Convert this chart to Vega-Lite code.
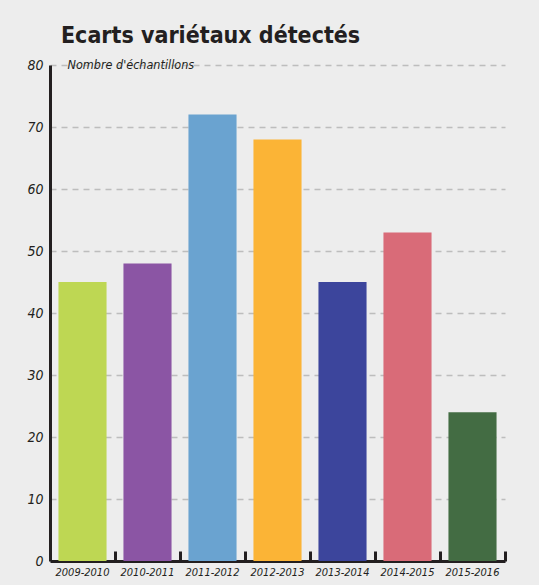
{
  "$schema": "https://vega.github.io/schema/vega-lite/v6.json",
  "width": 470,
  "height": 496,
  "autosize": "none",
  "padding": {"left": 50, "top": 65, "right": 19, "bottom": 24},
  "background": "#ededed",
  "title": {
    "text": "Ecarts variétaux détectés",
    "anchor": "start",
    "dx": 34,
    "offset": 10,
    "font": "DejaVu Sans Condensed, Roboto, sans-serif",
    "fontSize": 23,
    "fontWeight": "bold",
    "color": "#231f20"
  },
  "data": {
    "values": [
      {"saison": "2009-2010", "n": 45},
      {"saison": "2010-2011", "n": 48},
      {"saison": "2011-2012", "n": 72},
      {"saison": "2012-2013", "n": 68},
      {"saison": "2013-2014", "n": 45},
      {"saison": "2014-2015", "n": 53},
      {"saison": "2015-2016", "n": 24}
    ]
  },
  "layer": [
    {
      "mark": {"type": "bar", "width": {"band": 0.74}},
      "encoding": {
        "x": {
          "field": "saison",
          "type": "nominal",
          "sort": null,
          "scale": {"range": [0, 455], "paddingInner": 0, "paddingOuter": 0},
          "axis": {
            "title": null,
            "orient": "bottom",
            "labelAngle": 0,
            "labelFont": "DejaVu Sans Condensed, Roboto, sans-serif",
            "labelFontStyle": "italic",
            "labelFontSize": 11,
            "labelColor": "#231f20",
            "labelPadding": 5,
            "ticks": false,
            "domain": true,
            "domainColor": "#231f20",
            "domainWidth": 3
          }
        },
        "y": {
          "field": "n",
          "type": "quantitative",
          "scale": {"domain": [0, 80]},
          "axis": {
            "values": [0, 10, 20, 30, 40, 50, 60, 70, 80],
            "title": "Nombre d'échantillons",
            "titleAngle": 0,
            "titleX": 17,
            "titleY": -1,
            "titleAlign": "left",
            "titleBaseline": "middle",
            "titleFont": "DejaVu Sans Condensed, Roboto, sans-serif",
            "titleFontStyle": "italic",
            "titleFontWeight": "normal",
            "titleFontSize": 12.5,
            "titleColor": "#231f20",
            "labelFont": "DejaVu Sans Condensed, Roboto, sans-serif",
            "labelFontStyle": "italic",
            "labelFontSize": 14,
            "labelColor": "#231f20",
            "labelPadding": 7,
            "ticks": false,
            "domainColor": "#231f20",
            "domainWidth": 3,
            "grid": true,
            "gridColor": "#bdbdbd",
            "gridDash": [6, 5],
            "gridWidth": 1.5
          }
        },
        "color": {
          "field": "saison",
          "type": "nominal",
          "sort": null,
          "scale": {"range": ["#bed753", "#8b55a4", "#6aa3d0", "#fbb436", "#3c459c", "#d96b78", "#436c43"]},
          "legend": null
        }
      }
    },
    {
      "mark": {"type": "bar", "opacity": 0},
      "encoding": {
        "x": {
          "field": "saison",
          "type": "nominal",
          "sort": null,
          "axis": {
            "title": null,
            "orient": "bottom",
            "labels": false,
            "domain": false,
            "ticks": true,
            "grid": false,
            "bandPosition": 1,
            "tickSize": -10,
            "tickWidth": 3,
            "tickColor": "#231f20"
          }
        },
        "y": {"field": "n", "type": "quantitative"}
      }
    }
  ],
  "resolve": {"axis": {"x": "independent"}},
  "config": {"view": {"stroke": null}}
}
